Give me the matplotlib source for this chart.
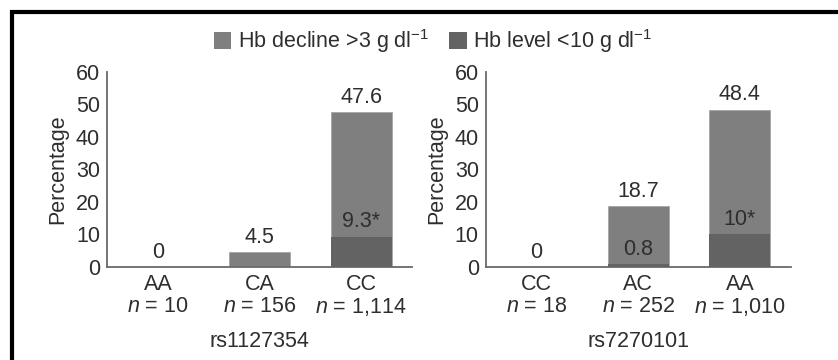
import matplotlib
matplotlib.use("Agg")
import matplotlib.pyplot as plt
from matplotlib.patches import Patch
from matplotlib.lines import Line2D

plt.rcParams["font.family"] = ["Liberation Sans", "DejaVu Sans"]
plt.rcParams["mathtext.fontset"] = "custom"
plt.rcParams["mathtext.rm"] = "Liberation Sans"
plt.rcParams["mathtext.it"] = "Liberation Sans:italic"

# Data
snp_names = ["rs1127354", "rs7270101"]
genotypes = [["AA", "CA", "CC"], ["CC", "AC", "AA"]]
sample_sizes = [["10", "156", "1,114"], ["18", "252", "1,010"]]
decline_pct = [[0, 4.5, 47.6], [0, 18.7, 48.4]]
low_level_pct = [[0, 0, 9.3], [0, 0.8, 10]]
low_level_labels = [[None, None, "9.3*"], [None, "0.8", "10*"]]

LIGHT = "#7f7f7f"
DARK = "#636363"
TEXT = "#2e2e2e"
AXIS = "#6a6a6a"
FS = 15.5

fig = plt.figure(figsize=(8.38, 3.6), dpi=100)

axes_lefts = [107 / 838, 485.7 / 838]
ax_w = 305 / 838
ax_b = (360 - 266.7) / 360
ax_h = 194.7 / 360

for k in range(2):
    ax = fig.add_axes([axes_lefts[k], ax_b, ax_w, ax_h])
    x = list(range(len(genotypes[k])))
    ax.bar(x, decline_pct[k], width=0.6, color=LIGHT, edgecolor="#a5a5a5",
           linewidth=0.6, zorder=2)
    ax.bar(x, low_level_pct[k], width=0.6, color=DARK, edgecolor="none",
           linewidth=0, zorder=3)
    for i, v in enumerate(decline_pct[k]):
        ax.annotate(f"{v:g}", (i, v), xytext=(0, 3), textcoords="offset points",
                    ha="center", va="bottom", fontsize=FS, color=TEXT, zorder=4)
        lab = low_level_labels[k][i]
        if lab is not None:
            ax.annotate(lab, (i, low_level_pct[k][i]), xytext=(0, 3),
                        textcoords="offset points", ha="center", va="bottom",
                        fontsize=FS, color=TEXT, zorder=4)
    ax.set_xlim(-0.5, 2.5)
    ax.set_ylim(0, 60)
    ax.set_yticks(range(0, 61, 10))
    ax.set_xticks(x)
    ax.set_xticklabels([f"{g}\n$\\mathit{{n}}$ = {n}" for g, n in
                        zip(genotypes[k], sample_sizes[k])],
                       linespacing=1.05)
    ax.tick_params(axis="both", length=0, labelsize=FS, colors=TEXT)
    ax.tick_params(axis="y", pad=5)
    ax.tick_params(axis="x", pad=5.5)
    for s in ["top", "right"]:
        ax.spines[s].set_visible(False)
    for s in ["left", "bottom"]:
        ax.spines[s].set_color(AXIS)
        ax.spines[s].set_linewidth(1.3)
    ax.set_ylabel("Percentage", fontsize=FS, color=TEXT, labelpad=5.5)
    ax.set_xlabel(snp_names[k], fontsize=FS, color=TEXT, labelpad=9)
    ax.set_facecolor("none")

handles = [Patch(facecolor=LIGHT, edgecolor="none"),
           Patch(facecolor=DARK, edgecolor="none")]
labels = ["Hb decline >3 g dl$^{-1}$", "Hb level <10 g dl$^{-1}$"]
fig.legend(handles, labels, loc="center", bbox_to_anchor=(0.517, 0.886),
           ncol=2, frameon=False, fontsize=FS, handlelength=0.8,
           handleheight=0.8, handletextpad=0.3, columnspacing=0.95,
           labelcolor=TEXT)

# Frame lines along the top and left edge
fig.add_artist(Line2D([10 / 838, 1.0], [1 - 12 / 360, 1 - 12 / 360],
                      transform=fig.transFigure, color="black", linewidth=3,
                      solid_capstyle="butt"))
fig.add_artist(Line2D([12 / 838, 12 / 838], [0, 1 - 10 / 360],
                      transform=fig.transFigure, color="black", linewidth=3,
                      solid_capstyle="butt"))

fig.savefig("out.png", dpi=100)
